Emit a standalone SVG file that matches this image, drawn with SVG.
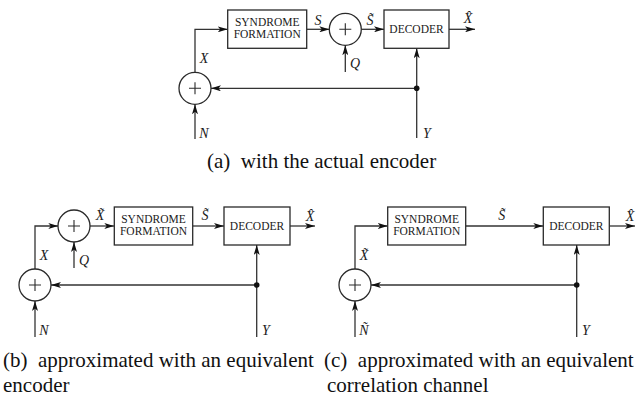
<svg xmlns="http://www.w3.org/2000/svg" width="640" height="397" viewBox="0 0 640 397">
  <style>
    .ln { fill: none; stroke: #333333; stroke-width: 1.3; }
    .box { fill: #ffffff; stroke: #2a2a2a; stroke-width: 1.3; }
    .sum { fill: #ffffff; stroke: #2a2a2a; stroke-width: 1.3; }
    .plus { fill: none; stroke: #2a2a2a; stroke-width: 1.1; }
    .arr { fill: none; stroke: #333333; stroke-width: 1.3; marker-end: url(#head); }
    .dot { fill: #111111; }
    .blk { font-family: "Liberation Serif", "Times New Roman", serif; font-size: 11.5px; fill: #1a1a1a; text-anchor: middle; }
    .var { font-family: "Liberation Serif", "Times New Roman", serif; font-style: italic; font-size: 14px; fill: #1a1a1a; text-anchor: middle; }
    .cap { font-family: "Liberation Serif", "Times New Roman", serif; font-size: 21px; fill: #111111; }
  </style>
  <defs>
    <marker id="head" markerUnits="userSpaceOnUse" markerWidth="10" markerHeight="6" viewBox="0 0 10 6" refX="10" refY="3" orient="auto">
      <path d="M0,0 L10,3 L0,6 L2.5,3 z" fill="#111111"/>
    </marker>
  </defs>

  <!-- ===== (a) actual encoder ===== -->
  <g id="a-connectors">
    <polyline class="arr" points="195,72 195,29.3 227.7,29.3"/>
    <line class="arr" x1="306.7" y1="29.3" x2="329.3" y2="29.3"/>
    <line class="arr" x1="361.3" y1="29.3" x2="384" y2="29.3"/>
    <line class="arr" x1="449" y1="29.3" x2="475" y2="29.3"/>
    <line class="arr" x1="345.3" y1="72" x2="345.3" y2="45.3"/>
    <line class="arr" x1="416.7" y1="138" x2="416.7" y2="48.3"/>
    <line class="arr" x1="416.7" y1="88.3" x2="211" y2="88.3"/>
    <line class="arr" x1="195" y1="139" x2="195" y2="104.3"/>
    <circle class="dot" cx="416.7" cy="88.3" r="2.8"/>
  </g>
  <g id="a-sum-n">
    <circle class="sum" cx="195" cy="88.3" r="16"/>
    <path class="plus" d="M189,88.3 H201 M195,82.3 V94.3"/>
  </g>
  <g id="a-syndrome">
    <rect class="box" x="227.7" y="10" width="79" height="38.3"/>
    <text class="blk" x="267.2" y="26">SYNDROME</text>
    <text class="blk" x="267.2" y="37.7">FORMATION</text>
  </g>
  <g id="a-sum-q">
    <circle class="sum" cx="345.3" cy="29.3" r="16"/>
    <path class="plus" d="M339.3,29.3 H351.3 M345.3,23.3 V35.3"/>
  </g>
  <g id="a-decoder">
    <rect class="box" x="384" y="10" width="65" height="38.3"/>
    <text class="blk" x="416.5" y="33">DECODER</text>
  </g>
  <g id="a-labels">
    <text class="var" x="318" y="24.5">S</text>
    <text class="var" x="370" y="25">S&#771;</text>
    <text class="var" x="468" y="23">X&#770;</text>
    <text class="var" x="204" y="62.5">X</text>
    <text class="var" x="355" y="67.5">Q</text>
    <text class="var" x="204" y="137.5">N</text>
    <text class="var" x="427" y="137.5">Y</text>
  </g>
  <text class="cap" x="207" y="168" xml:space="preserve">(a)  with the actual encoder</text>

  <!-- ===== (b) equivalent encoder ===== -->
  <g id="b-connectors">
    <polyline class="arr" points="35,269 35,226 58.3,226"/>
    <line class="arr" x1="90" y1="226" x2="114.3" y2="226"/>
    <line class="arr" x1="192.7" y1="226" x2="224" y2="226"/>
    <line class="arr" x1="290" y1="226" x2="315" y2="226"/>
    <line class="arr" x1="74" y1="268" x2="74" y2="242"/>
    <line class="arr" x1="256.7" y1="337" x2="256.7" y2="245"/>
    <line class="arr" x1="256.7" y1="285" x2="51" y2="285"/>
    <line class="arr" x1="35" y1="337" x2="35" y2="301"/>
    <circle class="dot" cx="256.7" cy="285" r="2.8"/>
  </g>
  <g id="b-sum-n">
    <circle class="sum" cx="35" cy="285" r="16"/>
    <path class="plus" d="M29,285 H41 M35,279 V291"/>
  </g>
  <g id="b-sum-q">
    <circle class="sum" cx="74" cy="226" r="16"/>
    <path class="plus" d="M68,226 H80 M74,220 V232"/>
  </g>
  <g id="b-syndrome">
    <rect class="box" x="114.3" y="207" width="78.4" height="38"/>
    <text class="blk" x="153.5" y="222.8">SYNDROME</text>
    <text class="blk" x="153.5" y="234.5">FORMATION</text>
  </g>
  <g id="b-decoder">
    <rect class="box" x="224" y="207" width="66" height="38"/>
    <text class="blk" x="257" y="230">DECODER</text>
  </g>
  <g id="b-labels">
    <text class="var" x="100" y="220">X&#771;</text>
    <text class="var" x="205" y="220">S&#771;</text>
    <text class="var" x="310" y="221">X&#770;</text>
    <text class="var" x="44" y="259.5">X</text>
    <text class="var" x="84" y="264.5">Q</text>
    <text class="var" x="44" y="334.5">N</text>
    <text class="var" x="266" y="334.5">Y</text>
  </g>
  <text class="cap" x="3" y="367" xml:space="preserve">(b)  approximated with an equivalent</text>
  <text class="cap" x="3" y="392">encoder</text>

  <!-- ===== (c) equivalent correlation channel ===== -->
  <g id="c-connectors">
    <polyline class="arr" points="355,269 355,226 387.7,226"/>
    <line class="arr" x1="465.7" y1="226" x2="543.3" y2="226"/>
    <line class="arr" x1="609.3" y1="226" x2="635" y2="226"/>
    <line class="arr" x1="576.7" y1="337" x2="576.7" y2="245"/>
    <line class="arr" x1="576.7" y1="285" x2="371" y2="285"/>
    <line class="arr" x1="355" y1="337" x2="355" y2="301"/>
    <circle class="dot" cx="576.7" cy="285" r="2.8"/>
  </g>
  <g id="c-sum-n">
    <circle class="sum" cx="355" cy="285" r="16"/>
    <path class="plus" d="M349,285 H361 M355,279 V291"/>
  </g>
  <g id="c-syndrome">
    <rect class="box" x="387.7" y="207" width="78" height="38"/>
    <text class="blk" x="426.7" y="222.8">SYNDROME</text>
    <text class="blk" x="426.7" y="234.5">FORMATION</text>
  </g>
  <g id="c-decoder">
    <rect class="box" x="543.3" y="207" width="66" height="38"/>
    <text class="blk" x="576.3" y="230">DECODER</text>
  </g>
  <g id="c-labels">
    <text class="var" x="501.7" y="220">S&#771;</text>
    <text class="var" x="630" y="221">X&#770;</text>
    <text class="var" x="364" y="260">X&#771;</text>
    <text class="var" x="364" y="335">N&#771;</text>
    <text class="var" x="586" y="334.5">Y</text>
  </g>
  <text class="cap" x="324" y="367" xml:space="preserve">(c)  approximated with an equivalent</text>
  <text class="cap" x="327" y="392">correlation channel</text>
</svg>
